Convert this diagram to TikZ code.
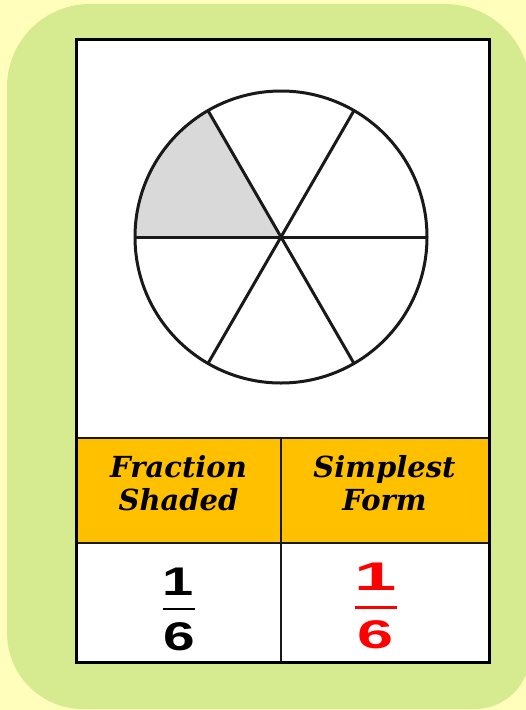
\documentclass[tikz,border=0pt]{standalone}
\usepackage{graphicx}
\usepackage{fontspec}
\newfontfamily\hdrfont{DejaVu Serif}
\newfontfamily\numfont{Liberation Sans}
\definecolor{bgyellow}{RGB}{255,255,187}
\definecolor{cardgreen}{RGB}{214,234,144}
\definecolor{hdrorange}{RGB}{255,192,0}
\definecolor{shadegray}{RGB}{217,217,217}
\definecolor{fracred}{RGB}{255,0,0}
\tikzset{
  hdr/.style={font=\hdrfont\bfseries\itshape\fontsize{29}{33}\selectfont, inner sep=0pt, anchor=base},
  numtxt/.style={font=\numfont\bfseries\fontsize{40}{42}\selectfont, inner sep=0pt, anchor=base},
  thickline/.style={line width=3pt, black!90},
  tableline/.style={line width=2.5pt, black!90},
}
\begin{document}
\begin{tikzpicture}[x=1pt,y=-1pt]
\useasboundingbox (0,0) rectangle (526,710);
\fill[bgyellow] (0,0) rectangle (526,710);
\fill[cardgreen] (7,300) [rounded corners=83pt] -- (7,4) [rounded corners=85pt] -- (530,4) [rounded corners=55pt] -- (530,709) [rounded corners=76pt] -- (7,709) -- cycle;
% white card
\fill[white] (76,39) rectangle (489,662);
% header band
\fill[hdrorange] (76,438) rectangle (489,543);
\draw[tableline] (76,438) -- (489,438);
\draw[tableline] (76,543) -- (489,543);
\draw[tableline] (281,438) -- (281,662);
\draw[thickline, line width=3pt, black] (76,39) rectangle (489,662);
% circle with shaded sixth
\coordinate (c) at (281,237);
\begin{scope}
  \clip (c) circle (146);
  \fill[shadegray] (c) -- (-19,237) -- (21,87) -- (131,-23) -- cycle;
\end{scope}
\coordinate (e0) at (427,237);
\coordinate (e180) at (135,237);
\coordinate (e60) at (354,110.56);
\coordinate (e240) at (208,363.44);
\coordinate (e120) at (208,110.56);
\coordinate (e300) at (354,363.44);
\draw[thickline] (e0) -- (e180);
\draw[thickline] (e60) -- (e240);
\draw[thickline] (e120) -- (e300);
\draw[thickline] (c) circle (146);
% header texts
\node[hdr] (h1a) at (178.5,477) {Fraction};
\node[hdr] (h1b) at (178.5,510) {Shaded};
\node[hdr] (h2a) at (384.5,477) {Simplest};
\node[hdr] (h2b) at (384.5,510) {Form};
% fractions
\node[numtxt] (n1) at (178.5,595) {\scalebox{1.4}[1]{1}};
\draw[line width=2.5pt] (163,609) -- (195,609);
\node[numtxt] (d1) at (179,650) {\scalebox{1.42}[1]{6}};
\node[numtxt, text=fracred] (n2) at (375.5,590) {\scalebox{1.9}[1]{1}};
\draw[line width=3pt, fracred] (355,607) -- (397,607);
\node[numtxt, text=fracred] (d2) at (376,648) {\scalebox{1.62}[1]{6}};
\end{tikzpicture}
\end{document}
